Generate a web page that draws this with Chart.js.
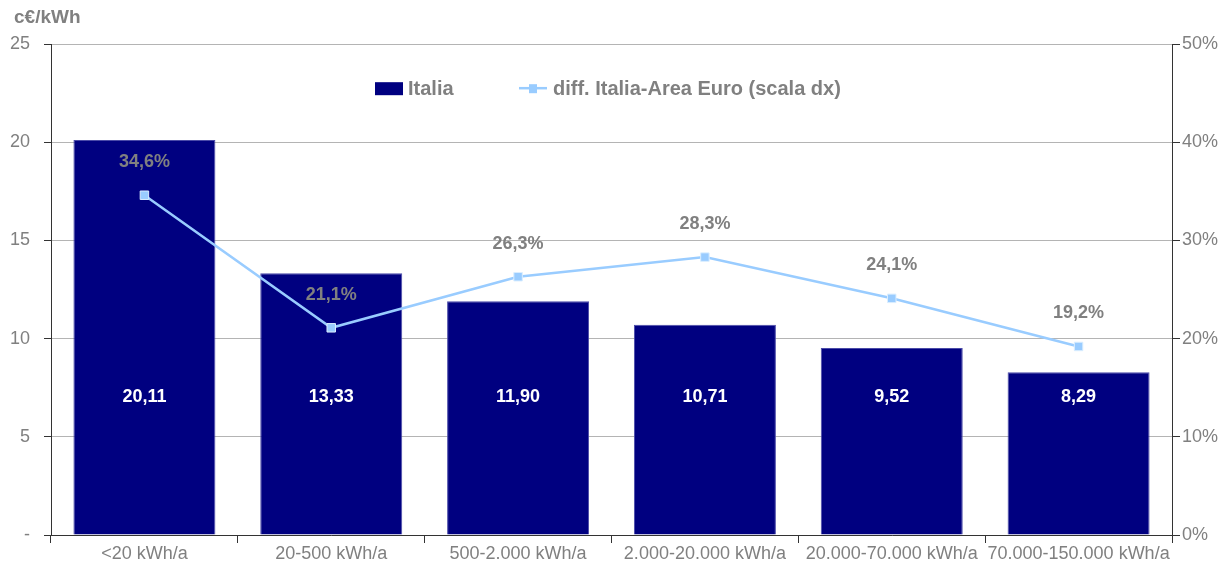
<!DOCTYPE html>
<html>
<head>
<meta charset="utf-8">
<script src="https://cdn.jsdelivr.net/npm/chart.js@4"></script>
<style>
  html, body { margin: 0; padding: 0; background: #fff; }
  #wrap { width: 1229px; height: 568px; }
</style>
</head>
<body>
<div id="wrap"><canvas id="chart"></canvas></div>
<script>
const categories = ['<20 kWh/a', '20-500 kWh/a', '500-2.000 kWh/a', '2.000-20.000 kWh/a', '20.000-70.000 kWh/a', '70.000-150.000 kWh/a'];
const italia = [20.11, 13.33, 11.90, 10.71, 9.52, 8.29];
const diffEuro = [34.6, 21.1, 26.3, 28.3, 24.1, 19.2];
const leftTicks = [0, 5, 10, 15, 20, 25];
const rightTicks = [0, 10, 20, 30, 40, 50];

const grey = '#808080';
const navy = '#000080';
const lightBlue = '#99ccff';
const FONT = '"Liberation Sans", Arial, sans-serif';
const fmt = (v, d) => v.toFixed(d).replace('.', ',');

// etichette dei valori, titolo asse e legenda dentro l'area del grafico
const labelsPlugin = {
    id: 'labels',
    afterDatasetsDraw(chart) {
        const ctx = chart.ctx;
        const yL = chart.scales.y;
        ctx.save();
        ctx.textAlign = 'center';
        ctx.textBaseline = 'middle';
        ctx.font = 'bold 18px ' + FONT;
        ctx.fillStyle = '#ffffff';
        chart.getDatasetMeta(0).data.forEach((bar, i) => {
            ctx.fillText(fmt(italia[i], 2), bar.x, yL.getPixelForValue(7.05));
        });
        ctx.fillStyle = grey;
        chart.getDatasetMeta(1).data.forEach((pt, i) => {
            ctx.fillText(fmt(diffEuro[i], 1) + '%', pt.x, pt.y - 33);
        });

        // titolo asse sinistro
        ctx.textAlign = 'left';
        ctx.font = 'bold 19px ' + FONT;
        ctx.fillText('c€/kWh', 14, 18);

        // legenda
        const ly = yL.getPixelForValue(22.75);
        ctx.font = 'bold 20px ' + FONT;
        ctx.fillStyle = navy;
        ctx.fillRect(375, ly - 6, 28, 13);
        ctx.fillStyle = grey;
        ctx.fillText(chart.data.datasets[0].label, 408, ly + 1);
        ctx.strokeStyle = lightBlue;
        ctx.lineWidth = 2.5;
        ctx.beginPath();
        ctx.moveTo(519, ly);
        ctx.lineTo(547, ly);
        ctx.stroke();
        ctx.fillStyle = lightBlue;
        ctx.fillRect(529, ly - 4, 8, 9);
        ctx.fillStyle = grey;
        ctx.fillText(chart.data.datasets[1].label, 553, ly + 1);
        ctx.restore();
    }
};

new Chart(document.getElementById('chart'), {
    type: 'bar',
    data: {
        labels: categories,
        datasets: [
            {
                label: 'Italia',
                data: italia,
                backgroundColor: navy,
                borderColor: '#4a4aa8',
                borderWidth: 1,
                barPercentage: 0.76,
                categoryPercentage: 1,
                yAxisID: 'y',
                order: 2
            },
            {
                type: 'line',
                label: 'diff. Italia-Area Euro (scala dx)',
                data: diffEuro,
                borderColor: lightBlue,
                backgroundColor: lightBlue,
                borderWidth: 2.5,
                pointStyle: 'rect',
                pointRadius: 6,
                pointBorderColor: '#dbeeff',
                pointBorderWidth: 1,
                yAxisID: 'y1',
                order: 1
            }
        ]
    },
    options: {
        responsive: true,
        maintainAspectRatio: false,
        animation: false,
        layout: { padding: { top: 44, left: 3, right: 3, bottom: 0 } },
        plugins: {
            legend: { display: false },
            tooltip: { enabled: false }
        },
        scales: {
            x: {
                offset: true,
                afterFit: axis => { axis.height = 33; },
                grid: { display: true, offset: true, drawOnChartArea: false, color: '#333', tickLength: 8 },
                border: { color: '#333' },
                ticks: { color: grey, font: { family: FONT, size: 18 }, padding: 0, maxRotation: 0, autoSkip: false }
            },
            y: {
                position: 'left',
                min: 0,
                max: 25,
                afterBuildTicks: axis => { axis.ticks = leftTicks.map(v => ({ value: v })); },
                afterFit: axis => { axis.width = 48; },
                grid: { color: '#b4b4b4', tickColor: '#333', tickLength: 7 },
                border: { color: '#333' },
                ticks: {
                    color: grey,
                    padding: 14,
                    font: { family: FONT, size: 18 },
                    callback: v => v === 0 ? '-' : v
                }
            },
            y1: {
                position: 'right',
                min: 0,
                max: 50,
                afterBuildTicks: axis => { axis.ticks = rightTicks.map(v => ({ value: v })); },
                afterFit: axis => { axis.width = 54; },
                grid: { drawOnChartArea: false, tickColor: '#333', tickLength: 8 },
                border: { color: '#333' },
                ticks: {
                    color: grey,
                    padding: 2,
                    font: { family: FONT, size: 18 },
                    callback: v => v + '%'
                }
            }
        }
    },
    plugins: [labelsPlugin]
});
</script>
</body>
</html>
